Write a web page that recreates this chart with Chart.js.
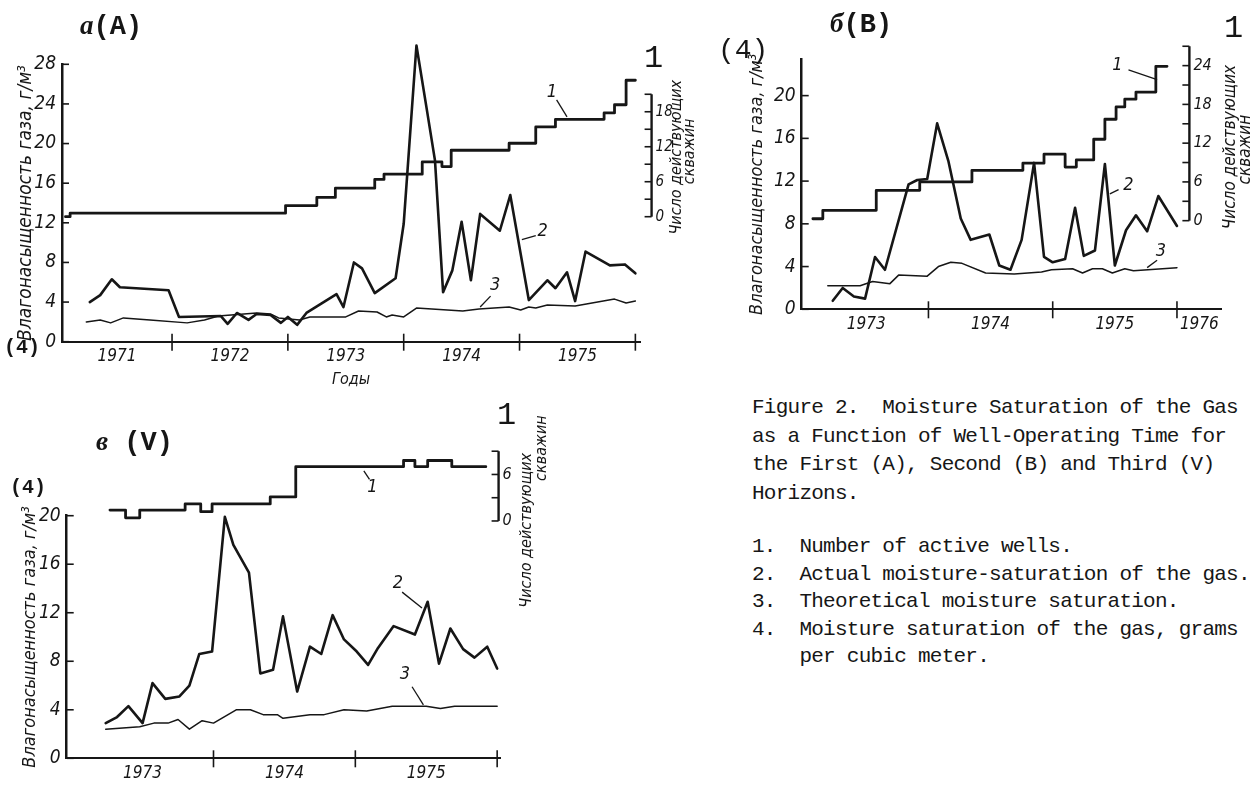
<!DOCTYPE html>
<html>
<head>
<meta charset="utf-8">
<script src="https://cdn.jsdelivr.net/npm/chart.js@4.4.1/dist/chart.umd.min.js"></script>
<style>
  html, body { margin: 0; background: #fff; }
  body { position: relative; width: 1251px; height: 788px; overflow: hidden; color: #161616; }
  canvas { position: absolute; }
  .t { position: absolute; white-space: pre; line-height: 1; font-family: 'Liberation Mono', 'DejaVu Sans Mono', monospace; }
  .ttl { font-size: 27px; font-weight: bold; }
  .ttl i { font-family: 'Liberation Serif', serif; font-weight: bold; }
  .num { font-size: 32px; }
  .cap { font-size: 21px; letter-spacing: -0.75px; }
</style>
</head>
<body>
<canvas id="chartA" width="720" height="400" style="left:0;top:0"></canvas>
<canvas id="chartB" width="551" height="350" style="left:700px;top:0"></canvas>
<canvas id="chartV" width="600" height="388" style="left:0;top:400px"></canvas>

<div class="t ttl" style="left:80px;top:12px"><i>а</i>(A)</div>
<div class="t ttl" style="left:830px;top:10px"><i>б</i>(B)</div>
<div class="t ttl" style="left:96px;top:428px"><i>в</i> (V)</div>
<div class="t" style="left:4px;top:338px;font-size:20px;font-weight:bold">(4)</div>
<div class="t" style="left:718px;top:37px;font-size:28px">(4)</div>
<div class="t" style="left:10px;top:478px;font-size:20px;font-weight:bold">(4)</div>
<div class="t num" style="left:644px;top:43px">1</div>
<div class="t num" style="left:1224px;top:13px">1</div>
<div class="t num" style="left:497px;top:400px">1</div>

<div class="t cap" style="left:752px;top:394px;line-height:28.5px">Figure 2.  Moisture Saturation of the Gas
as a Function of Well-Operating Time for
the First (A), Second (B) and Third (V)
Horizons.</div>
<div class="t cap" style="left:752px;top:533px;line-height:27.5px">1.  Number of active wells.
2.  Actual moisture-saturation of the gas.
3.  Theoretical moisture saturation.
4.  Moisture saturation of the gas, grams
    per cubic meter.</div>

<script>
// ---- data: [year, value] ----
const yearLabelsA = ['1971', '1972', '1973', '1974', '1975'];
const yearLabelsB = ['1973', '1974', '1975', '1976'];
const yearLabelsV = ['1973', '1974', '1975'];

// 1 - number of active wells (stepped)
const wellsA = [[1971.08, 0], [1971.12, 0.6], [1972.98, 1.9], [1973.25, 3.3], [1973.41, 4.9],
  [1973.75, 6.4], [1973.83, 7.3], [1974.16, 9.4], [1974.33, 8.6], [1974.41, 11.4],
  [1974.91, 12.6], [1975.14, 15.4], [1975.31, 16.7], [1975.73, 17.8], [1975.82, 19.2],
  [1975.92, 23.4], [1976.0, 23.4]];
const wellsB = [[1973.07, 0.3], [1973.15, 1.6], [1973.58, 4.7], [1973.93, 6.0], [1974.35, 7.8],
  [1974.76, 8.9], [1974.93, 10.3], [1975.10, 8.3], [1975.19, 9.4], [1975.33, 12.6],
  [1975.42, 15.7], [1975.51, 17.6], [1975.58, 18.8], [1975.67, 19.9], [1975.83, 23.9],
  [1975.92, 23.9]];
const wellsV = [[1973.27, 1.4], [1973.38, 0.4], [1973.48, 1.4], [1973.80, 2.2], [1973.91, 1.2],
  [1973.99, 2.2], [1974.40, 3.1], [1974.58, 7.0], [1975.34, 7.8], [1975.42, 7.0],
  [1975.51, 7.8], [1975.68, 7.0], [1975.92, 7.0]];

// 2 - actual moisture saturation, g/m3
const actualA = [[1971.29, 4.0], [1971.38, 4.7], [1971.48, 6.3], [1971.55, 5.5], [1971.97, 5.2],
  [1972.06, 2.5], [1972.42, 2.6], [1972.48, 1.8], [1972.56, 2.9], [1972.66, 2.2],
  [1972.73, 2.8], [1972.85, 2.7], [1972.94, 1.9], [1973.0, 2.5], [1973.08, 1.7],
  [1973.16, 2.9], [1973.42, 4.8], [1973.48, 3.5], [1973.57, 8.0], [1973.64, 7.4],
  [1973.75, 4.9], [1973.93, 6.4], [1974.0, 11.9], [1974.11, 29.9], [1974.2, 23.4],
  [1974.27, 18.3], [1974.34, 5.0], [1974.42, 7.2], [1974.5, 12.1], [1974.58, 6.2],
  [1974.66, 12.9], [1974.83, 11.2], [1974.92, 14.8], [1975.08, 4.2], [1975.24, 6.2],
  [1975.31, 5.4], [1975.41, 7.0], [1975.48, 4.1], [1975.57, 9.1], [1975.78, 7.7],
  [1975.91, 7.8], [1976.0, 6.9]];
const actualB = [[1973.23, 0.8], [1973.31, 2.0], [1973.40, 1.2], [1973.49, 1.0], [1973.57, 4.9],
  [1973.65, 3.7], [1973.84, 11.7], [1973.91, 12.1], [1973.99, 12.2], [1974.07, 17.4],
  [1974.16, 13.9], [1974.26, 8.5], [1974.34, 6.5], [1974.49, 7.0], [1974.57, 4.1],
  [1974.66, 3.7], [1974.75, 6.5], [1974.85, 13.7], [1974.93, 4.9], [1975.0, 4.4],
  [1975.10, 4.7], [1975.18, 9.5], [1975.25, 5.0], [1975.34, 5.5], [1975.42, 13.6],
  [1975.5, 4.1], [1975.59, 7.4], [1975.67, 8.8], [1975.76, 7.3], [1975.85, 10.6],
  [1976.0, 7.8]];
const actualV = [[1973.24, 2.9], [1973.32, 3.4], [1973.40, 4.3], [1973.50, 2.9], [1973.57, 6.2],
  [1973.66, 4.9], [1973.76, 5.1], [1973.83, 6.0], [1973.90, 8.6], [1973.99, 8.8],
  [1974.08, 19.9], [1974.14, 17.6], [1974.25, 15.3], [1974.33, 7.0], [1974.42, 7.3],
  [1974.49, 11.7], [1974.59, 5.5], [1974.68, 9.2], [1974.76, 8.6], [1974.84, 11.8],
  [1974.92, 9.8], [1975.01, 8.8], [1975.09, 7.7], [1975.16, 9.1], [1975.27, 10.9],
  [1975.42, 10.2], [1975.51, 12.9], [1975.59, 7.8], [1975.67, 10.7], [1975.76, 9.0],
  [1975.84, 8.3], [1975.93, 9.2], [1976.0, 7.4]];

// 3 - theoretical moisture saturation, g/m3
const theoryA = [[1971.26, 2.0], [1971.38, 2.2], [1971.47, 1.9], [1971.58, 2.4], [1971.81, 2.2],
  [1972.13, 1.9], [1972.28, 2.2], [1972.4, 2.6], [1972.73, 2.9], [1972.85, 2.8],
  [1972.92, 2.4], [1973.1, 2.2], [1973.19, 2.5], [1973.5, 2.5], [1973.61, 3.1],
  [1973.77, 3.0], [1973.85, 2.5], [1973.9, 2.7], [1974.0, 2.5], [1974.11, 3.4],
  [1974.51, 3.1], [1974.65, 3.3], [1974.91, 3.5], [1975.01, 3.2], [1975.08, 3.5],
  [1975.14, 3.4], [1975.24, 3.7], [1975.48, 3.6], [1975.82, 4.3], [1975.92, 3.9],
  [1976.0, 4.1]];
const theoryB = [[1973.19, 2.2], [1973.45, 2.2], [1973.55, 2.6], [1973.69, 2.4], [1973.76, 3.2],
  [1973.99, 3.1], [1974.08, 4.0], [1974.18, 4.4], [1974.27, 4.3], [1974.46, 3.4],
  [1974.69, 3.3], [1974.91, 3.5], [1974.99, 3.7], [1975.16, 3.8], [1975.24, 3.4],
  [1975.32, 3.8], [1975.4, 3.8], [1975.48, 3.4], [1975.58, 3.8], [1975.65, 3.6],
  [1976.0, 3.9]];
const theoryV = [[1973.24, 2.4], [1973.48, 2.6], [1973.58, 2.9], [1973.68, 2.9], [1973.75, 3.2],
  [1973.83, 2.4], [1973.92, 3.1], [1974.0, 2.9], [1974.16, 4.0], [1974.26, 4.0],
  [1974.35, 3.6], [1974.45, 3.6], [1974.49, 3.3], [1974.68, 3.6], [1974.78, 3.6],
  [1974.92, 4.0], [1975.08, 3.9], [1975.26, 4.3], [1975.5, 4.3], [1975.6, 4.1],
  [1975.7, 4.3], [1976.0, 4.3]];

const moistureTitle = 'Влагонасыщенность газа, г/м³';
const wellsTitle = ['Число действующих', 'скважин'];

// ---- drawing ----
const ink = '#161616';
const narrow = "'Liberation Sans Narrow', 'DejaVu Sans Condensed', sans-serif";

function seg(ctx, x1, y1, x2, y2) {
  ctx.beginPath();
  ctx.moveTo(x1, y1);
  ctx.lineTo(x2, y2);
  ctx.stroke();
}

// inner ticks, year separators, the short wells axis and the 1/2/3 call-outs
function decor(p) {
  return {
    id: 'decor',
    afterDraw(chart) {
      const {ctx, chartArea: a, scales: {x, y, y1}} = chart;
      ctx.save();
      ctx.strokeStyle = ink;
      ctx.fillStyle = ink;
      ctx.lineWidth = 1.6;
      y.ticks.forEach(t => {
        const py = y.getPixelForValue(t.value);
        seg(ctx, a.left, py, a.left + 7, py);
      });
      p.yearMarks.forEach(yr => {
        const px = x.getPixelForValue(yr);
        seg(ctx, px, a.bottom - 8, px, a.bottom + 9);
      });

      const w = p.wellsAxis;
      const ax = x.getPixelForValue(w.at);
      ctx.lineWidth = 2.4;
      seg(ctx, ax, y1.getPixelForValue(0), ax, y1.getPixelForValue(w.top));
      ctx.lineWidth = 1.6;
      ctx.font = 'italic ' + w.fontSize + 'px ' + narrow;
      ctx.textAlign = 'left';
      ctx.textBaseline = 'middle';
      for (let v = 0; v <= w.top; v += 3) {
        const py = y1.getPixelForValue(v);
        seg(ctx, ax - 7, py, ax, py);
        if (v % 6 === 0) ctx.fillText(String(v), ax + 4, py);
      }
      ctx.font = 'italic ' + w.titleSize + 'px ' + narrow;
      ctx.textAlign = 'center';
      w.title.forEach((line, i) => {
        ctx.save();
        ctx.translate(ax + w.titleDx[i], y1.getPixelForValue(w.titleAt[i]));
        ctx.rotate(-Math.PI / 2);
        ctx.fillText(line, 0, 0);
        ctx.restore();
      });

      ctx.font = 'italic 18px ' + narrow;
      ctx.lineWidth = 1.3;
      p.callouts.forEach(c => {
        ctx.fillText(c.text, x.getPixelForValue(c.at[0]), y.getPixelForValue(c.at[1]));
        seg(ctx, x.getPixelForValue(c.from[0]), y.getPixelForValue(c.from[1]),
          x.getPixelForValue(c.to[0]), y.getPixelForValue(c.to[1]));
      });
      ctx.restore();
    }
  };
}

const pts = arr => arr.map(([x, y]) => ({x, y}));

function makeChart(id, p) {
  const yearTicks = p.yearLabels.map(lbl => {
    const y0 = Math.max(+lbl, p.xMin), y1 = Math.min(+lbl + 1, p.xMax);
    return {value: (y0 + y1) / 2};
  });
  const moistTicks = [];
  for (let v = 0; v <= p.yTop; v += 2) moistTicks.push({value: v});

  return new Chart(document.getElementById(id), {
    type: 'line',
    data: {
      datasets: [
        {label: '1', data: pts(p.wells), yAxisID: 'y1', stepped: true, borderWidth: 2.8},
        {label: '2', data: pts(p.actual), yAxisID: 'y', borderWidth: 2.6},
        {label: '3', data: pts(p.theory), yAxisID: 'y', borderWidth: 1.5}
      ]
    },
    options: {
      responsive: false,
      animation: false,
      events: [],
      layout: {padding: p.pad},
      datasets: {line: {clip: false}},
      elements: {
        point: {radius: 0},
        line: {borderColor: ink, tension: 0, borderJoinStyle: 'round', borderCapStyle: 'round'}
      },
      plugins: {legend: {display: false}, tooltip: {enabled: false}},
      scales: {
        x: {
          type: 'linear',
          min: p.xMin,
          max: p.xMax,
          afterBuildTicks: s => { s.ticks = yearTicks; },
          afterFit: s => { s.height = p.xHeight; },
          ticks: {
            autoSkip: false, maxRotation: 0, padding: 5, color: ink,
            font: {family: narrow, size: 17, style: 'italic'},
            callback: (v, i) => p.yearLabels[i]
          },
          grid: {display: false, drawTicks: false},
          border: {color: ink, width: 2},
          title: {
            display: !!p.xTitle, text: p.xTitle, color: ink, padding: 0,
            font: {family: narrow, size: 16, style: 'italic'}
          }
        },
        y: {
          min: 0,
          max: p.yMax,
          afterBuildTicks: s => { s.ticks = moistTicks; },
          afterFit: s => { s.width = p.yWidth; },
          ticks: {
            padding: 6, color: ink,
            font: {family: narrow, size: 19, style: 'italic'},
            callback: v => (v % 4 === 0 ? v : '')
          },
          grid: {display: false, drawTicks: false},
          border: {color: ink, width: 2.5},
          title: {
            display: true, text: moistureTitle, color: ink, padding: 0,
            font: {family: narrow, size: p.yTitleSize, style: 'italic'}
          }
        },
        y1: {display: false, min: p.wMin, max: p.wMax}
      }
    },
    plugins: [decor(p)]
  });
}

makeChart('chartA', {
  wells: wellsA, actual: actualA, theory: theoryA, yearLabels: yearLabelsA,
  xMin: 1971.05, xMax: 1976.04, yMax: 28, yTop: 28, wMin: -21.44, wMax: 26.14,
  pad: {left: 15, right: 80, top: 64.3, bottom: 10.3}, yWidth: 47, xHeight: 48,
  yTitleSize: 19, xTitle: 'Годы',
  yearMarks: [1972, 1973, 1974, 1975, 1976],
  wellsAxis: {at: 1976.14, top: 21, fontSize: 15, titleSize: 16,
    title: wellsTitle, titleDx: [25, 38], titleAt: [10.2, 11.2]},
  callouts: [
    {text: '1', at: [1975.28, 25.2], from: [1975.32, 24.4], to: [1975.41, 22.7]},
    {text: '2', at: [1975.2, 11.1], from: [1975.14, 10.7], to: [1975.02, 10.3]},
    {text: '3', at: [1974.79, 5.7], from: [1974.75, 4.6], to: [1974.66, 3.5]}
  ]
});

makeChart('chartB', {
  wells: wellsB, actual: actualB, theory: theoryB, yearLabels: yearLabelsB,
  xMin: 1972.98, xMax: 1976.36, yMax: 23.4, yTop: 22, wMin: -13.72, wMax: 24.98,
  pad: {left: 46.8, right: 29.3, top: 59.3, bottom: 10.7}, yWidth: 54.9, xHeight: 30,
  yTitleSize: 18, xTitle: '',
  yearMarks: [1974, 1975, 1976],
  wellsAxis: {at: 1976.10, top: 27, fontSize: 16, titleSize: 17,
    title: wellsTitle, titleDx: [41, 56], titleAt: [11.4, 11.0]},
  callouts: [
    {text: '1', at: [1975.52, 22.8], from: [1975.61, 22.4], to: [1975.84, 21.5]},
    {text: '2', at: [1975.61, 11.6], from: [1975.53, 11.2], to: [1975.46, 10.8]},
    {text: '3', at: [1975.87, 5.4], from: [1975.84, 4.6], to: [1975.76, 3.9]}
  ]
});

makeChart('chartV', {
  wells: wellsV, actual: actualV, theory: theoryV, yearLabels: yearLabelsV,
  xMin: 1972.965, xMax: 1976.02, yMax: 20, yTop: 20, wMin: -30.62, wMax: 0.68,
  pad: {left: 19.8, right: 100, top: 115.7, bottom: 3.7}, yWidth: 46.9, xHeight: 26,
  yTitleSize: 18, xTitle: '',
  yearMarks: [1974, 1975, 1976],
  wellsAxis: {at: 1976.01, top: 9, fontSize: 16, titleSize: 16,
    title: wellsTitle, titleDx: [28, 43], titleAt: [-1.2, 9.4]},
  callouts: [
    {text: '1', at: [1975.12, 22.3], from: [1975.06, 23.7], to: [1975.1, 23.0]},
    {text: '2', at: [1975.30, 14.4], from: [1975.33, 13.7], to: [1975.47, 12.4]},
    {text: '3', at: [1975.35, 6.9], from: [1975.40, 5.9], to: [1975.48, 4.4]}
  ]
});
</script>
</body>
</html>
